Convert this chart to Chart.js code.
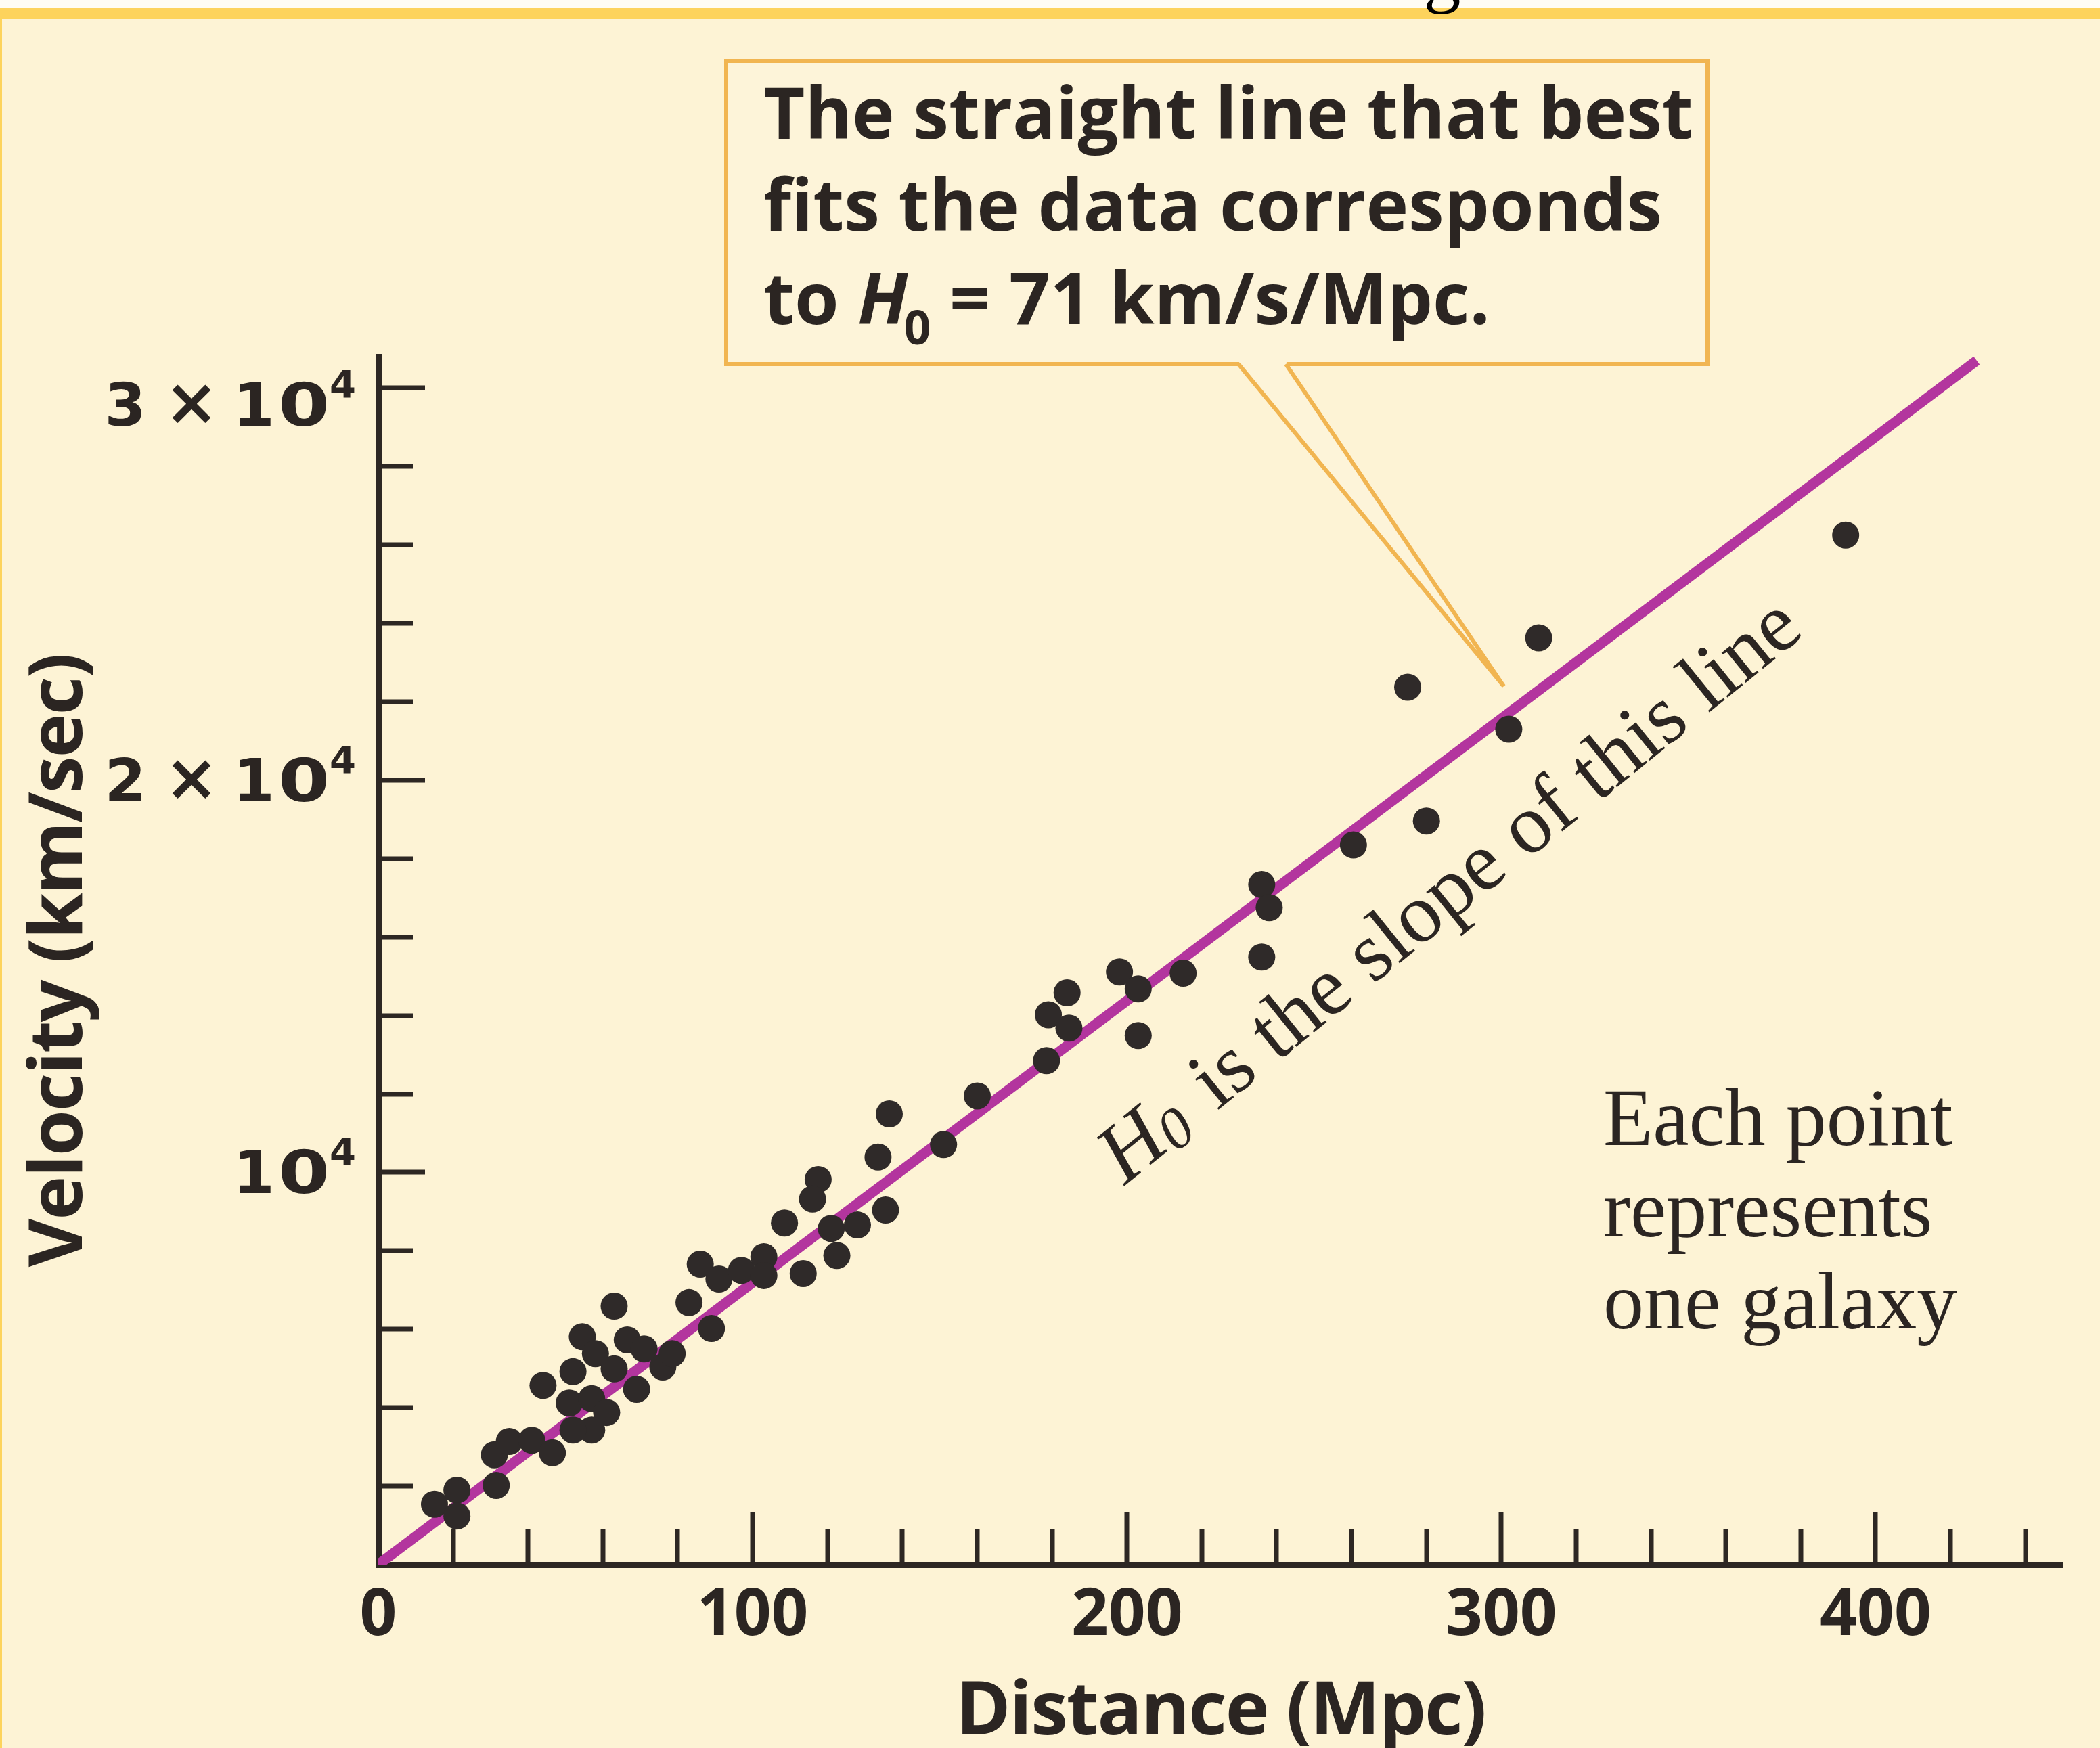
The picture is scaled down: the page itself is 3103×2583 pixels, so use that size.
<!DOCTYPE html>
<html>
<head>
<meta charset="utf-8">
<title>Hubble diagram</title>
<script src="https://cdn.jsdelivr.net/npm/chart.js@4.4.1/dist/chart.umd.min.js"></script>
<style>
  html, body { margin: 0; padding: 0; background: #fdf3d5; }
  canvas { display: block; }
</style>
</head>
<body>
<canvas id="hubbleChart" width="3103" height="2583" style="width:3103px;height:2583px"></canvas>
<script>
// Galaxies: distance (Mpc) and recession velocity (km/s)
const distanceMpc = [15, 21, 21, 31.5, 31, 35, 41, 46.5, 44, 52,
    51, 57, 61, 57, 52, 54.5, 58, 63, 66.5, 71,
    63, 69, 76, 78.5, 83, 89, 86, 91, 97, 103,
    103, 108.5, 113.5, 117.5, 116, 121, 128, 122.5, 135.5, 133.5,
    136.5, 151, 160, 178.5, 179, 184, 184.5, 198, 203, 203,
    215, 236, 238, 236, 260.5, 275, 280, 302, 310, 392];
const velocityKms = [1540, 1900, 1240, 2020, 2800, 3140, 3170, 2850, 4570, 4920,
    4120, 4230, 3880, 3430, 3430, 5810, 5380, 6590, 5730, 5500,
    4990, 4470, 5040, 5380, 6680, 6020, 7660, 7280, 7500, 7850,
    7370, 8710, 7420, 9820, 9320, 8570, 8660, 7880, 9040, 10390,
    11490, 10710, 11950, 12850, 14020, 14580, 13680, 15110, 14680, 13490,
    15080, 17340, 16750, 15490, 18350, 22370, 18960, 21300, 23630, 26250];

// best-fit line ends (H0 = 71 km/s/Mpc)
const fitDistance = [0, 427];
const fitVelocity = [0, 30700];

// axes
const xTickValues = [20, 40, 60, 80, 100, 120, 140, 160, 180, 200, 220,
    240, 260, 280, 300, 320, 340, 360, 380, 400, 420, 440];
const xLabelValues = [0, 100, 200, 300, 400];
const yTickValues = [2000, 4000, 6000, 8000, 10000, 12000, 14000, 16000,
    18000, 20000, 22000, 24000, 26000, 28000, 30000];
const yLabelValues = [10000, 20000, 30000];
const yLabelMantissa = ['', '2', '3'];

const axisColor = '#2d2723';
const textColor = '#2b2522';
const cream = '#fdf3d5';

const decor = {
    id: 'decor',
    beforeDraw(chart) {
        const ctx = chart.ctx;
        ctx.save();
        ctx.fillStyle = cream;
        ctx.fillRect(0, 0, chart.width, chart.height);
        ctx.fillStyle = '#fffcf3';
        ctx.fillRect(0, 0, chart.width, 12);
        ctx.fillStyle = '#fdd35c';
        ctx.fillRect(0, 12, chart.width, 16);
        ctx.fillRect(0, 12, 3, chart.height);
        // bottom of a title letter cut off by the frame
        ctx.fillStyle = '#000';
        ctx.font = '110px "Liberation Serif"';
        ctx.textAlign = 'center';
        ctx.fillText('g', 2131, -2);
        ctx.restore();
    },
    afterDraw(chart) {
        const { ctx, scales: { x, y } } = chart;
        const x0 = x.getPixelForValue(0);
        const y0 = y.getPixelForValue(0);
        ctx.save();

        // tick marks point into the plot
        ctx.strokeStyle = axisColor;
        ctx.lineWidth = 7;
        yTickValues.forEach(v => {
            const py = Math.round(y.getPixelForValue(v));
            const len = v % 10000 === 0 ? 69 : 51;
            ctx.beginPath();
            ctx.moveTo(x0, py);
            ctx.lineTo(x0 + len, py);
            ctx.stroke();
        });
        xTickValues.forEach(v => {
            const px = Math.round(x.getPixelForValue(v));
            const len = v % 100 === 0 ? 77 : 52;
            ctx.beginPath();
            ctx.moveTo(px, y0);
            ctx.lineTo(px, y0 - len);
            ctx.stroke();
        });

        // tick labels
        ctx.fillStyle = textColor;
        ctx.textBaseline = 'alphabetic';
        ctx.textAlign = 'center';
        ctx.font = 'bold 96px "Open Sans"';
        xLabelValues.forEach(v => {
            ctx.fillText(String(v), x.getPixelForValue(v), 2416);
        });

        yLabelValues.forEach((v, i) => {
            // top label sits just under its tick
            const base = y.getPixelForValue(v) + 31 + (i === yLabelValues.length - 1 ? 25 : 0);
            ctx.font = 'bold 88px "DejaVu Sans"';
            ctx.textAlign = 'center';
            if (yLabelMantissa[i]) {
                ctx.fillText(yLabelMantissa[i], x0 - 374, base);
                ctx.font = 'bold 96px "DejaVu Sans"';
                ctx.fillText('\u00d7', x0 - 276, base - 2);
                ctx.font = 'bold 88px "DejaVu Sans"';
            }
            ctx.fillText('1', x0 - 184, base);
            ctx.save();
            ctx.translate(x0 - 110, base);
            ctx.scale(1.25, 1);
            ctx.fillText('0', 0, 0);
            ctx.restore();
            ctx.font = 'bold 56px "DejaVu Sans"';
            ctx.textAlign = 'left';
            ctx.fillText('4', x0 - 72, base - 42);
        });

        // axis titles
        ctx.font = 'bold 110px "Open Sans"';
        ctx.letterSpacing = '-2px';
        ctx.textAlign = 'center';
        ctx.fillText('Distance (Mpc)', (x.left + x.right) / 2, 2563);
        ctx.save();
        ctx.translate(121, (y.top + y.bottom) / 2);
        ctx.rotate(-Math.PI / 2);
        ctx.fillText('Velocity (km/sec)', 0, 0);
        ctx.restore();
        ctx.letterSpacing = '0px';

        // callout box
        const bx = 1073, by = 90, bw = 1450, bh = 448;
        const boxFill = '#fdf4d9';
        ctx.fillStyle = boxFill;
        ctx.fillRect(bx, by, bw, bh);
        ctx.strokeStyle = '#f1b551';
        ctx.lineWidth = 6;
        ctx.strokeRect(bx, by, bw, bh);
        ctx.beginPath();
        ctx.moveTo(1830, by + bh - 4);
        ctx.lineTo(2222, 1014);
        ctx.lineTo(1900, by + bh - 4);
        ctx.closePath();
        ctx.fillStyle = boxFill;
        ctx.fill();
        ctx.beginPath();
        ctx.moveTo(1830, by + bh);
        ctx.lineTo(2222, 1014);
        ctx.lineTo(1900, by + bh);
        ctx.stroke();

        ctx.fillStyle = textColor;
        ctx.textAlign = 'left';
        ctx.font = 'bold 106px "Open Sans"';
        ctx.fillText('The straight line that best', 1128, 205);
        ctx.fillText('fits the data corresponds', 1128, 341);
        let cx = 1128;
        ctx.fillText('to ', cx, 479);
        cx += ctx.measureText('to ').width;
        ctx.font = 'italic bold 106px "Open Sans"';
        ctx.fillText('H', cx, 479);
        cx += ctx.measureText('H').width - 6;
        ctx.font = 'bold 70px "Open Sans"';
        ctx.fillText('0', cx, 509);
        cx += ctx.measureText('0').width;
        ctx.font = 'bold 106px "Open Sans"';
        ctx.fillText(' = 71 km/s/Mpc.', cx, 479);

        // slope note along the line
        ctx.save();
        ctx.translate(1662, 1752);
        ctx.rotate(-39 * Math.PI / 180);
        let tx = 0;
        ctx.font = 'italic 124px "Liberation Serif"';
        ctx.fillText('H', 0, 0);
        tx += ctx.measureText('H').width;
        ctx.font = 'italic 86px "Liberation Serif"';
        ctx.fillText('0', tx, 10);
        tx += ctx.measureText('0').width;
        ctx.font = '124px "Liberation Serif"';
        ctx.fillText(' is the slope of this line', tx + 12, 0);
        ctx.restore();

        ctx.font = '120px "Liberation Serif"';
        ctx.fillText('Each point', 2369, 1692);
        ctx.fillText('represents', 2369, 1827);
        ctx.fillText('one galaxy', 2369, 1963);

        ctx.restore();
    }
};

const ctx = document.getElementById('hubbleChart').getContext('2d');
const hubbleChart = new Chart(ctx, {
    type: 'scatter',
    data: {
        datasets: [{
            label: 'Best fit',
            data: fitDistance.map((d, i) => ({ x: d, y: fitVelocity[i] })),
            showLine: true,
            borderColor: '#b3359e',
            borderWidth: 15,
            borderCapStyle: 'butt',
            pointRadius: 0,
            order: 2
        }, {
            label: 'Galaxies',
            data: distanceMpc.map((d, i) => ({ x: d, y: velocityKms[i] })),
            pointRadius: 20,
            pointBackgroundColor: '#2f2a29',
            pointBorderWidth: 0,
            order: 1
        }]
    },
    options: {
        responsive: false,
        animation: false,
        devicePixelRatio: 1,
        events: [],
        layout: {
            padding: { left: 559, right: 55, top: 527, bottom: 271 }
        },
        plugins: {
            legend: { display: false },
            tooltip: { enabled: false },
            title: { display: false }
        },
        scales: {
            x: {
                type: 'linear',
                min: 0,
                max: 450,
                grid: { display: false, drawTicks: false },
                ticks: { display: false },
                border: { display: true, color: axisColor, width: 9 }
            },
            y: {
                type: 'linear',
                min: 0,
                max: 30800,
                grid: { display: false, drawTicks: false },
                ticks: { display: false },
                border: { display: true, color: axisColor, width: 9 }
            }
        }
    },
    plugins: [decor]
});
</script>
</body>
</html>
